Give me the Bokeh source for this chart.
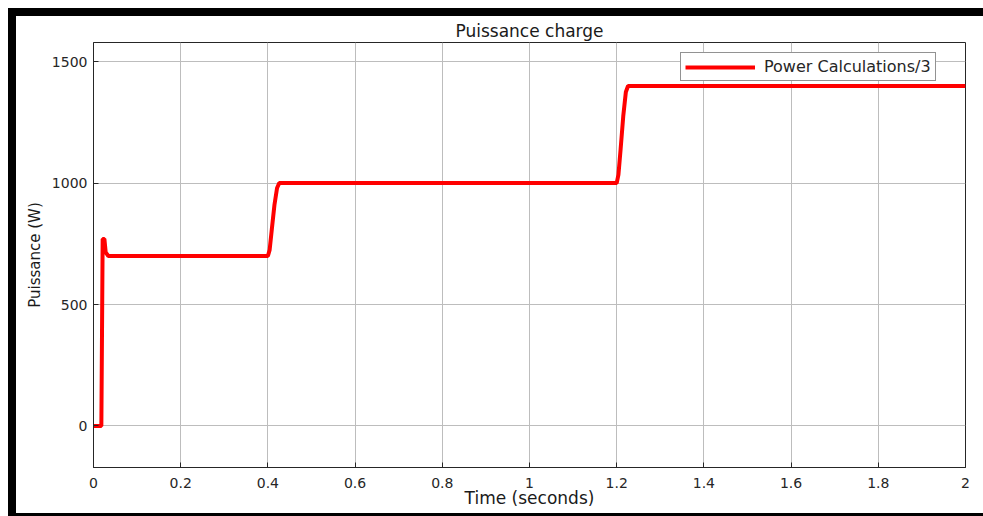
from bokeh.plotting import figure
from bokeh.models import FixedTicker, Range1d, Legend, LegendItem, Div
from bokeh.layouts import column, row
from bokeh.embed import file_html
from bokeh.resources import INLINE

# ---- data ----
time_s = [0.0, 0.018, 0.021, 0.025, 0.028, 0.034,
          0.400, 0.404, 0.409, 0.415, 0.421, 0.426,
          1.200, 1.204, 1.209, 1.215, 1.221, 1.226, 2.0]
power_w = [0, 0, 770, 770, 715, 700,
           700, 725, 810, 910, 980, 1000,
           1000, 1035, 1140, 1275, 1375, 1400, 1400]

x_ticks = [0, 0.2, 0.4, 0.6, 0.8, 1.0, 1.2, 1.4, 1.6, 1.8, 2.0]
x_tick_labels = ["0", "0.2", "0.4", "0.6", "0.8", "1", "1.2", "1.4", "1.6", "1.8", "2"]
y_ticks = [0, 500, 1000, 1500]
y_tick_labels = ["0", "500", "1000", "1500"]

title_text = "Puissance charge"
x_label = "Time (seconds)"
y_label = "Puissance (W)"
series_name = "Power Calculations/3"

FONT = "DejaVu Sans"

p = figure(width=967, height=497, output_backend="svg", toolbar_location=None,
           x_range=Range1d(0, 2), y_range=Range1d(-171, 1579),
           min_border_left=77, min_border_right=18,
           min_border_top=25, min_border_bottom=46,
           title=title_text)

p.title.align = "center"
p.title.text_font = FONT
p.title.text_font_size = "17px"
p.title.text_font_style = "normal"
p.title.text_color = "#1a1a1a"
p.title.standoff = 4
p.title.offset = 0

p.background_fill_color = "white"
p.border_fill_color = "white"
p.outline_line_color = "#262626"
p.outline_line_width = 1

p.xaxis.ticker = FixedTicker(ticks=x_ticks)
p.yaxis.ticker = FixedTicker(ticks=y_ticks)
p.xaxis.major_label_overrides = {t: l for t, l in zip(x_ticks, x_tick_labels)}
p.yaxis.major_label_overrides = {t: l for t, l in zip(y_ticks, y_tick_labels)}

for ax in (p.xaxis, p.yaxis):
    ax.axis_line_color = "#262626"
    ax.major_tick_line_color = "#262626"
    ax.major_tick_in = 5
    ax.major_tick_out = 0
    ax.minor_tick_line_color = None
    ax.major_label_text_font = FONT
    ax.major_label_text_font_size = "14px"
    ax.major_label_text_color = "#262626"
    ax.axis_label_text_font = FONT
    ax.axis_label_text_font_style = "normal"
    ax.axis_label_text_color = "#1a1a1a"

p.xaxis.major_label_standoff = 10
p.yaxis.major_label_standoff = 6
p.xaxis.axis_label = x_label
p.yaxis.axis_label = y_label
p.xaxis.axis_label_text_font_size = "17px"
p.yaxis.axis_label_text_font_size = "15px"
p.xaxis.axis_label_standoff = -3
p.yaxis.axis_label_standoff = 5

p.grid.grid_line_color = "#bdbdbd"
p.grid.grid_line_width = 1

r = p.line(time_s, power_w, line_color="#ff0000", line_width=4)

legend = Legend(items=[LegendItem(label=series_name, renderers=[r])],
                location=(587, 386))
legend.label_text_font = FONT
legend.label_text_font_size = "16px"
legend.label_text_color = "#262626"
legend.glyph_width = 70
legend.glyph_height = 16
legend.label_height = 16
legend.label_standoff = 9
legend.padding = 4
legend.margin = 0
legend.border_line_color = "#262626"
legend.border_line_width = 1
legend.background_fill_alpha = 1
p.add_layout(legend, "center")

# black figure frame (top, left, bottom) as in the reference screenshot
black = {"background-color": "black"}
top_bar = Div(text="", width=975, height=8, styles=black, margin=0)
left_bar = Div(text="", width=8, height=497, styles=black, margin=0)
bottom_bar = Div(text="", width=975, height=3, styles=black, margin=0)
layout = column(top_bar, row(left_bar, p, spacing=0), bottom_bar,
                spacing=0, margin=(8, 0, 0, 8))

open("out.html", "w").write(file_html(layout, INLINE))
